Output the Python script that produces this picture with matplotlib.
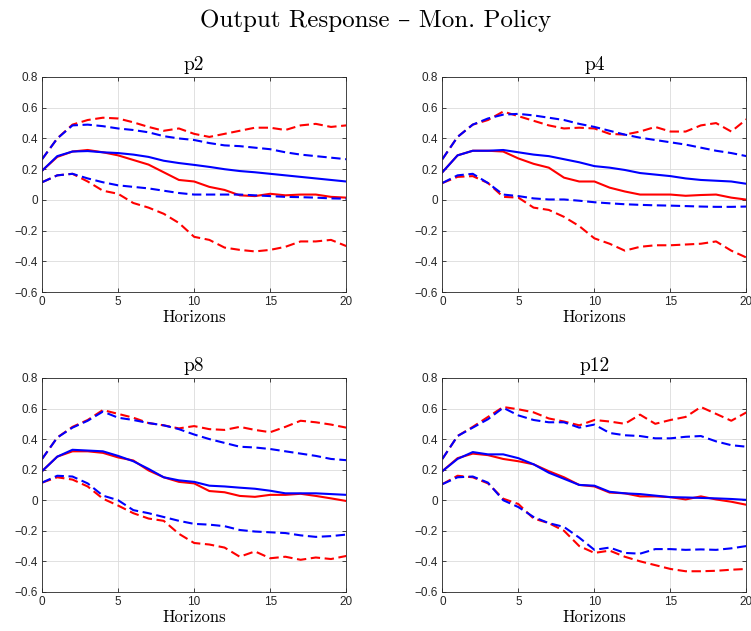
import numpy as np
import matplotlib
matplotlib.use("Agg")
import matplotlib.pyplot as plt

# horizons 0..20
horizons = np.arange(21)
panel_titles = ["p2", "p4", "p8", "p12"]

# blue: median and bands, red: median and bands
blue_mid = {
    "p2": [0.19, 0.285, 0.315, 0.318, 0.31, 0.305, 0.295, 0.28, 0.255, 0.24, 0.228,
           0.215, 0.2, 0.188, 0.18, 0.17, 0.16, 0.15, 0.14, 0.13, 0.12],
    "p4": [0.18, 0.29, 0.32, 0.32, 0.325, 0.31, 0.295, 0.285, 0.265, 0.245, 0.22,
           0.21, 0.195, 0.175, 0.165, 0.155, 0.14, 0.13, 0.125, 0.12, 0.105],
    "p8": [0.19, 0.285, 0.33, 0.325, 0.32, 0.29, 0.255, 0.205, 0.15, 0.13, 0.12,
           0.095, 0.09, 0.082, 0.075, 0.062, 0.045, 0.045, 0.045, 0.04, 0.035],
    "p12": [0.19, 0.27, 0.315, 0.3, 0.3, 0.275, 0.235, 0.18, 0.14, 0.1, 0.095,
            0.055, 0.045, 0.04, 0.03, 0.02, 0.018, 0.015, 0.012, 0.008, 0.002],
}
blue_up = {
    "p2": [0.265, 0.40, 0.485, 0.49, 0.48, 0.465, 0.455, 0.44, 0.415, 0.40, 0.39,
           0.37, 0.355, 0.35, 0.34, 0.33, 0.31, 0.295, 0.285, 0.275, 0.265],
    "p4": [0.265, 0.41, 0.49, 0.53, 0.555, 0.56, 0.55, 0.535, 0.52, 0.495, 0.475,
           0.45, 0.425, 0.405, 0.39, 0.375, 0.36, 0.34, 0.32, 0.305, 0.285],
    "p8": [0.27, 0.41, 0.475, 0.52, 0.58, 0.54, 0.525, 0.505, 0.49, 0.465, 0.43,
           0.40, 0.375, 0.35, 0.345, 0.335, 0.32, 0.305, 0.29, 0.27, 0.262],
    "p12": [0.27, 0.42, 0.475, 0.53, 0.605, 0.555, 0.525, 0.51, 0.51, 0.475, 0.495,
            0.44, 0.425, 0.42, 0.405, 0.405, 0.415, 0.42, 0.385, 0.36, 0.35],
}
blue_lo = {
    "p2": [0.115, 0.16, 0.17, 0.14, 0.115, 0.095, 0.085, 0.075, 0.06, 0.045, 0.035,
           0.035, 0.035, 0.035, 0.03, 0.025, 0.02, 0.018, 0.015, 0.01, 0.008],
    "p4": [0.11, 0.16, 0.17, 0.11, 0.035, 0.025, 0.01, 0.003, 0.003, -0.005, -0.015,
           -0.022, -0.028, -0.032, -0.035, -0.037, -0.04, -0.043, -0.045, -0.045, -0.043],
    "p8": [0.115, 0.16, 0.155, 0.11, 0.03, 0.0, -0.065, -0.085, -0.11, -0.135, -0.155,
           -0.16, -0.17, -0.195, -0.205, -0.21, -0.215, -0.23, -0.24, -0.235, -0.225],
    "p12": [0.105, 0.15, 0.155, 0.115, 0.0, -0.045, -0.11, -0.15, -0.175, -0.245, -0.325,
            -0.31, -0.345, -0.35, -0.32, -0.32, -0.325, -0.322, -0.325, -0.315, -0.30],
}
red_mid = {
    "p2": [0.19, 0.28, 0.315, 0.325, 0.31, 0.29, 0.26, 0.23, 0.18, 0.13, 0.12,
           0.085, 0.065, 0.03, 0.025, 0.04, 0.03, 0.035, 0.035, 0.02, 0.015],
    "p4": [0.18, 0.29, 0.32, 0.32, 0.315, 0.27, 0.235, 0.21, 0.145, 0.12, 0.12,
           0.08, 0.055, 0.035, 0.035, 0.035, 0.027, 0.032, 0.035, 0.015, 0.002],
    "p8": [0.19, 0.285, 0.32, 0.32, 0.31, 0.28, 0.26, 0.195, 0.15, 0.12, 0.11,
           0.06, 0.052, 0.028, 0.022, 0.035, 0.035, 0.042, 0.028, 0.012, -0.005],
    "p12": [0.19, 0.275, 0.305, 0.295, 0.27, 0.255, 0.235, 0.19, 0.15, 0.1, 0.09,
            0.05, 0.045, 0.025, 0.025, 0.02, 0.005, 0.025, 0.005, -0.01, -0.03],
}
red_up = {
    "p2": [0.265, 0.40, 0.49, 0.52, 0.535, 0.53, 0.505, 0.475, 0.45, 0.465, 0.43,
           0.41, 0.43, 0.45, 0.47, 0.47, 0.455, 0.485, 0.495, 0.475, 0.485],
    "p4": [0.265, 0.41, 0.49, 0.52, 0.575, 0.545, 0.515, 0.485, 0.465, 0.47, 0.465,
           0.43, 0.425, 0.445, 0.475, 0.445, 0.445, 0.485, 0.50, 0.445, 0.525],
    "p8": [0.27, 0.41, 0.48, 0.525, 0.59, 0.565, 0.54, 0.505, 0.49, 0.47, 0.485,
           0.465, 0.46, 0.48, 0.46, 0.445, 0.48, 0.52, 0.51, 0.495, 0.475],
    "p12": [0.27, 0.42, 0.48, 0.545, 0.61, 0.595, 0.575, 0.535, 0.515, 0.49, 0.525,
            0.515, 0.50, 0.56, 0.50, 0.525, 0.545, 0.61, 0.565, 0.52, 0.575],
}
red_lo = {
    "p2": [0.115, 0.16, 0.17, 0.12, 0.06, 0.04, -0.02, -0.05, -0.09, -0.15, -0.24,
           -0.26, -0.31, -0.325, -0.335, -0.325, -0.305, -0.27, -0.27, -0.26, -0.30],
    "p4": [0.11, 0.15, 0.155, 0.11, 0.02, 0.015, -0.05, -0.065, -0.11, -0.17, -0.25,
           -0.285, -0.33, -0.305, -0.295, -0.295, -0.29, -0.285, -0.27, -0.33, -0.375],
    "p8": [0.115, 0.15, 0.135, 0.09, 0.01, -0.035, -0.085, -0.12, -0.135, -0.22, -0.28,
           -0.29, -0.31, -0.37, -0.335, -0.38, -0.37, -0.39, -0.375, -0.385, -0.365],
    "p12": [0.105, 0.16, 0.15, 0.11, 0.01, -0.025, -0.12, -0.15, -0.2, -0.3, -0.345,
            -0.33, -0.37, -0.40, -0.425, -0.45, -0.465, -0.465, -0.462, -0.455, -0.45],
}

serif = ["cmr10", "DejaVu Serif"]
plt.rcParams["font.family"] = ["Liberation Sans", "DejaVu Sans"]
plt.rcParams["axes.unicode_minus"] = True

fig = plt.figure(figsize=(7.51, 6.31), dpi=100)
# axes positions in figure fractions [left, bottom, width, height]
positions = [
    [0.056, 0.537, 0.405, 0.341],
    [0.589, 0.537, 0.405, 0.341],
    [0.056, 0.062, 0.405, 0.339],
    [0.589, 0.062, 0.405, 0.339],
]
dash = (0, (4.5, 2.2))
edge = "#262626"

for name, pos in zip(panel_titles, positions):
    ax = fig.add_axes(pos)
    ax.plot(horizons, red_up[name], color="red", lw=1.5, ls=dash)
    ax.plot(horizons, red_lo[name], color="red", lw=1.5, ls=dash)
    ax.plot(horizons, red_mid[name], color="red", lw=1.5)
    ax.plot(horizons, blue_up[name], color="blue", lw=1.5, ls=dash)
    ax.plot(horizons, blue_lo[name], color="blue", lw=1.5, ls=dash)
    ax.plot(horizons, blue_mid[name], color="blue", lw=1.5)

    ax.set_xlim(0, 20)
    ax.set_ylim(-0.6, 0.8)
    ax.set_xticks([0, 5, 10, 15, 20])
    ax.set_yticks(np.arange(-0.6, 0.81, 0.2))
    ax.set_yticklabels(["\u22120.6", "\u22120.4", "\u22120.2", "0", "0.2", "0.4", "0.6", "0.8"])
    ax.grid(True, color="#dcdcdc", lw=0.6)
    ax.set_axisbelow(True)
    ax.tick_params(direction="in", length=3, width=0.6, colors=edge, labelsize=8.5,
                   top=True, right=True, pad=3)
    for s in ax.spines.values():
        s.set_color(edge)
        s.set_linewidth(0.6)
    ax.set_title(name, family=serif, fontsize=14, pad=5)
    ax.set_xlabel("Horizons", family=serif, fontsize=12, labelpad=1)

fig.suptitle("Output Response \u2013 Mon. Policy", family=serif, fontsize=18, y=0.985)
fig.savefig("out.png", dpi=100)
